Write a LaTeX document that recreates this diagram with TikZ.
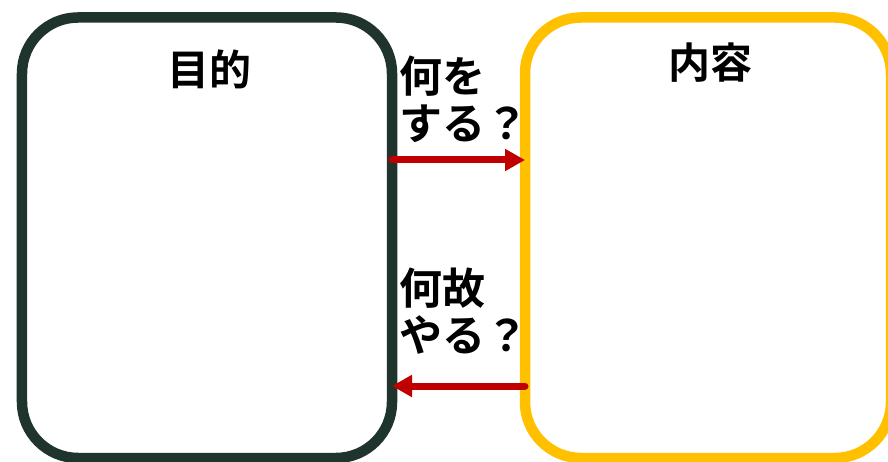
\documentclass[tikz,border=0pt]{standalone}
\usepackage{fontspec}
\newfontfamily\jpfont{Noto Sans CJK JP}[BoldFont={* Bold}]
\usetikzlibrary{arrows.meta}
\definecolor{boxgreen}{RGB}{31,52,44}
\definecolor{boxyellow}{RGB}{255,192,0}
\definecolor{arrowred}{RGB}{192,0,0}
\tikzset{
  panel/.style={line width=10.5bp, rounded corners=56bp, outer sep=0pt, inner sep=0pt, fill=white},
  title/.style={font=\jpfont\bfseries\fontsize{42bp}{46bp}\selectfont, inner sep=0pt},
  qlabel/.style={font=\jpfont\bfseries\fontsize{43bp}{47bp}\selectfont, inner sep=0pt, align=left},
  flow/.style={arrowred, line width=7bp, line cap=round, -{Triangle[length=20bp,width=21bp]}}
}
\begin{document}
\begin{tikzpicture}[x=1bp,y=-1bp]
\useasboundingbox (0,0) rectangle (888,462);
\clip (0,0) rectangle (888,462);
\fill[white] (0,0) rectangle (888,462);
\node[panel, draw=boxgreen, minimum width=370bp, minimum height=440.5bp] (lbox) at (207,237.75) {};
\node[panel, draw=boxyellow, minimum width=366bp, minimum height=440.5bp] (rbox) at (708,237.75) {};
\node[title] (t1) at (209,69) {目的};
\node[title] (t2) at (710,63) {内容};
\node[qlabel, anchor=north west] (q1) at (399,56) {何を\\する？};
\node[qlabel, anchor=north west] (q2) at (399,268) {何故\\やる？};
\draw[flow] ([yshift=77.75bp]lbox.east) -- ([yshift=77.75bp]rbox.west);
\draw[flow] ([yshift=-148.25bp]rbox.west) -- ([yshift=-148.25bp]lbox.east);
\end{tikzpicture}
\end{document}
